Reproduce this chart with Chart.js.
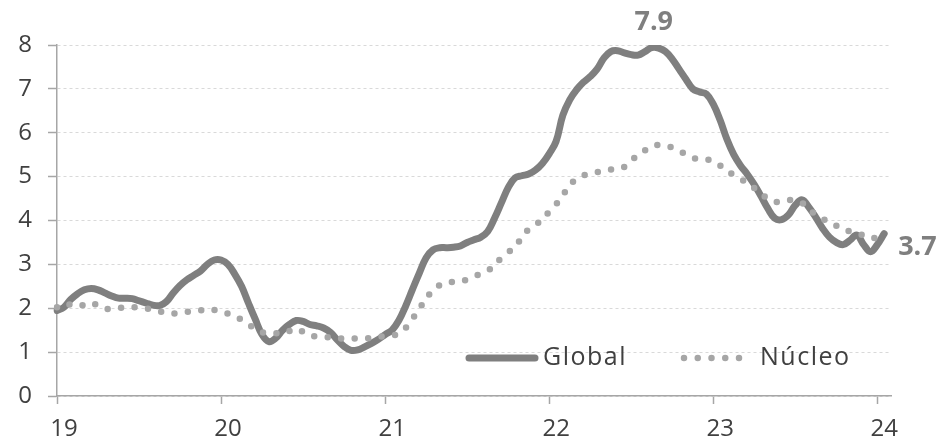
<!DOCTYPE html>
<html lang="es">
<head>
<meta charset="utf-8">
<title>Inflación global y núcleo</title>
<script src="https://cdn.jsdelivr.net/npm/chart.js@4.4.1/dist/chart.umd.min.js"></script>
<style>
    html, body { margin: 0; padding: 0; background: #fff; }
    #contenedor { width: 939px; height: 445px; }
</style>
</head>
<body>
<div id="contenedor"><canvas id="grafica"></canvas></div>
<script>
// Datos quincenales, de la 1a quincena de enero 2019 a la 2a de enero 2024
const anios = ['19', '20', '21', '22', '23', '24'];
const meses = ['Ene', 'Feb', 'Mar', 'Abr', 'May', 'Jun', 'Jul', 'Ago', 'Sep', 'Oct', 'Nov', 'Dic'];

const globalInf = [
    1.95, 2.02, 2.20, 2.33, 2.42, 2.45, 2.42, 2.35, 2.28, 2.23, 2.23, 2.22, 2.17, 2.12, 2.07, 2.06, 2.15, 2.35, 2.52, 2.65, 2.75, 2.85, 3.00, 3.10,
    3.10, 3.00, 2.78, 2.50, 2.12, 1.75, 1.40, 1.24, 1.32, 1.50, 1.63, 1.72, 1.70, 1.63, 1.60, 1.55, 1.45, 1.28, 1.13, 1.04, 1.05, 1.12, 1.20, 1.29,
    1.40, 1.50, 1.72, 2.05, 2.43, 2.80, 3.15, 3.33, 3.38, 3.38, 3.39, 3.42, 3.50, 3.56, 3.62, 3.75, 4.05, 4.40, 4.75, 4.97, 5.02, 5.06, 5.15, 5.30,
    5.52, 5.80, 6.40, 6.75, 6.98, 7.15, 7.28, 7.45, 7.70, 7.85, 7.87, 7.82, 7.78, 7.77, 7.85, 7.94, 7.93, 7.85, 7.68, 7.45, 7.22, 7.00, 6.93, 6.88,
    6.65, 6.29, 5.85, 5.50, 5.25, 5.05, 4.82, 4.55, 4.27, 4.05, 4.02, 4.13, 4.35, 4.47, 4.30, 4.07, 3.82, 3.62, 3.50, 3.45, 3.55, 3.67, 3.45, 3.29,
    3.45, 3.70
];

const nucleoInf = [
    2.02, 2.10, 2.08, 2.04, 2.08, 2.13, 2.05, 1.98, 2.00, 2.01, 2.02, 2.03, 2.01, 2.00, 1.96, 1.93, 1.89, 1.88, 1.90, 1.92, 1.93, 1.95, 1.98, 1.96,
    1.92, 1.88, 1.82, 1.74, 1.64, 1.52, 1.45, 1.43, 1.43, 1.43, 1.48, 1.53, 1.46, 1.37, 1.36, 1.35, 1.33, 1.31, 1.31, 1.31, 1.31, 1.31, 1.33, 1.35,
    1.36, 1.38, 1.42, 1.55, 1.76, 1.98, 2.23, 2.40, 2.53, 2.59, 2.60, 2.60, 2.66, 2.73, 2.78, 2.85, 3.00, 3.14, 3.27, 3.42, 3.60, 3.80, 3.90, 4.04,
    4.20, 4.37, 4.58, 4.80, 4.95, 5.03, 5.06, 5.10, 5.13, 5.16, 5.18, 5.22, 5.36, 5.50, 5.60, 5.69, 5.72, 5.71, 5.66, 5.59, 5.50, 5.42, 5.41, 5.40,
    5.33, 5.25, 5.13, 5.04, 4.95, 4.85, 4.74, 4.61, 4.50, 4.42, 4.45, 4.47, 4.45, 4.40, 4.25, 4.14, 4.04, 3.96, 3.88, 3.80, 3.75, 3.71, 3.66, 3.59,
    3.63, 3.71
];

// Etiquetas de cada quincena (más una vacía al final para alargar el eje)
const quincenas = [];
anios.forEach(a => {
    meses.forEach(m => {
        quincenas.push(m + ' ' + a + ' 1Q', m + ' ' + a + ' 2Q');
    });
});
quincenas.length = globalInf.length;
quincenas.push('');

const FUENTE = '"Open Sans", sans-serif';
const GRIS_TEXTO = '#404040';
const GRIS_EJE = '#a6a6a6';
const GRIS_GLOBAL = '#7f7f7f';
const GRIS_NUCLEO = '#a6a6a6';

// Rótulos del máximo y del último dato, y la leyenda dentro del área
const rotulos = {
    id: 'rotulos',
    afterDatasetsDraw(chart) {
        const ctx = chart.ctx;
        const x = chart.scales.x;
        const y = chart.scales.y;

        let iMax = 0;
        globalInf.forEach((v, i) => { if (v > globalInf[iMax]) iMax = i; });
        const iUlt = globalInf.length - 1;

        ctx.save();
        ctx.fillStyle = GRIS_GLOBAL;
        ctx.font = 'bold 27px ' + FUENTE;
        ctx.textBaseline = 'middle';
        ctx.textAlign = 'center';
        ctx.fillText(globalInf[iMax].toFixed(1), x.getPixelForValue(iMax) + 2, y.getPixelForValue(globalInf[iMax]) - 25);
        ctx.textAlign = 'left';
        ctx.fillText(globalInf[iUlt].toFixed(1), x.getPixelForValue(iUlt) + 14, y.getPixelForValue(globalInf[iUlt]) + 14);

        // leyenda
        const yl = 358;
        ctx.lineCap = 'round';
        ctx.strokeStyle = GRIS_GLOBAL;
        ctx.lineWidth = 7;
        ctx.beginPath();
        ctx.moveTo(469, yl);
        ctx.lineTo(535, yl);
        ctx.stroke();

        ctx.strokeStyle = GRIS_NUCLEO;
        ctx.lineWidth = 6.5;
        ctx.setLineDash([0, 13.75]);
        ctx.beginPath();
        ctx.moveTo(684, yl);
        ctx.lineTo(740, yl);
        ctx.stroke();
        ctx.setLineDash([]);

        ctx.fillStyle = GRIS_TEXTO;
        ctx.font = '25px ' + FUENTE;
        ctx.letterSpacing = '1.5px';
        ctx.fillText('Global', 543, yl);
        ctx.fillText('Núcleo', 760, yl);
        ctx.restore();
    }
};

const ctx = document.getElementById('grafica').getContext('2d');
new Chart(ctx, {
    type: 'line',
    data: {
        labels: quincenas,
        datasets: [
            {
                label: 'Global',
                data: globalInf,
                borderColor: GRIS_GLOBAL,
                borderWidth: 7,
                borderCapStyle: 'round',
                borderJoinStyle: 'round',
                pointRadius: 0,
                tension: 0.4,
                order: 2
            },
            {
                label: 'Núcleo',
                data: nucleoInf,
                borderColor: GRIS_NUCLEO,
                borderWidth: 6.5,
                borderCapStyle: 'round',
                borderDash: [0, 13.5],
                pointRadius: 0,
                tension: 0.4,
                order: 1
            }
        ]
    },
    options: {
        responsive: true,
        maintainAspectRatio: false,
        animation: false,
        layout: { padding: { top: 45, right: 48, left: 0, bottom: 0 } },
        plugins: {
            legend: { display: false },
            tooltip: { enabled: false }
        },
        scales: {
            x: {
                type: 'category',
                offset: false,
                afterFit: s => { s.height = 49; },
                border: { color: GRIS_EJE, width: 1.5 },
                grid: {
                    drawOnChartArea: false,
                    tickLength: 8,
                    tickColor: GRIS_EJE,
                    tickWidth: 1.5
                },
                ticks: {
                    autoSkip: false,
                    maxRotation: 0,
                    labelOffset: 7,
                    padding: 11,
                    color: GRIS_TEXTO,
                    font: { family: FUENTE, size: 24 },
                    callback: (v, i) => (i % 24 === 0 ? anios[i / 24] : null)
                }
            },
            y: {
                min: 0,
                max: 8,
                afterFit: s => { s.width = 57; },
                border: { color: GRIS_EJE, width: 1.5, dash: [3, 3] },
                grid: {
                    color: '#d9d9d9',
                    lineWidth: 1,
                    tickLength: 9,
                    tickColor: GRIS_EJE,
                    tickWidth: 1.5,
                    tickBorderDash: [100, 0]
                },
                ticks: {
                    stepSize: 1,
                    padding: 16,
                    color: GRIS_TEXTO,
                    font: { family: FUENTE, size: 24 }
                }
            }
        }
    },
    plugins: [rotulos]
});
</script>
</body>
</html>
